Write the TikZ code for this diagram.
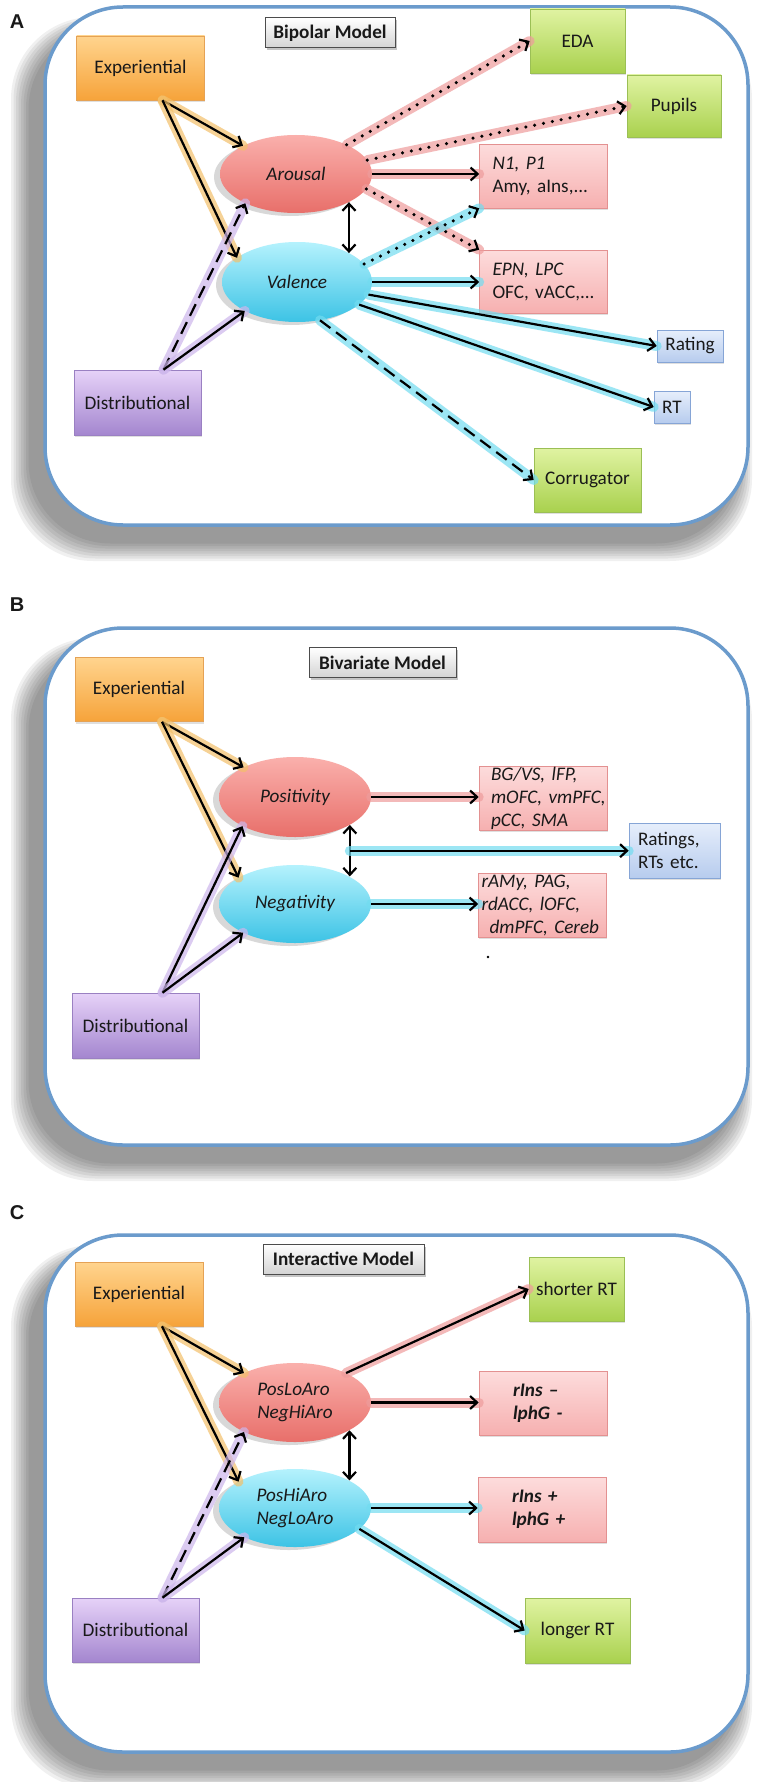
\documentclass[tikz,border=0pt]{standalone}
\usepackage{fontspec}
\setmainfont{Carlito}
\newfontfamily\letterfont{Liberation Sans}
\usetikzlibrary{arrows.meta,shapes.geometric,shadows,calc}
\definecolor{panelblue}{HTML}{6B9BCC}
\definecolor{orgT}{HTML}{FFD48E}
\definecolor{orgB}{HTML}{F6A33A}
\definecolor{orgE}{HTML}{E5A255}
\definecolor{purT}{HTML}{E6D2F8}
\definecolor{purB}{HTML}{A486CF}
\definecolor{purE}{HTML}{9A80C2}
\definecolor{grnT}{HTML}{E0F3A2}
\definecolor{grnB}{HTML}{A9D14E}
\definecolor{grnE}{HTML}{9BBF55}
\definecolor{pnkT}{HTML}{FDDCDC}
\definecolor{pnkB}{HTML}{F6B0B0}
\definecolor{pnkE}{HTML}{E39191}
\definecolor{bluT}{HTML}{E6EEFB}
\definecolor{bluB}{HTML}{B7CCEE}
\definecolor{bluE}{HTML}{86A5D6}
\definecolor{redT}{HTML}{FAB0AC}
\definecolor{redB}{HTML}{E86F6A}
\definecolor{cyaT}{HTML}{B5F2FD}
\definecolor{cyaB}{HTML}{3CC3E5}
\definecolor{glR}{HTML}{EE9C9C}
\definecolor{glC}{HTML}{72DCF0}
\definecolor{glO}{HTML}{F3C06A}
\definecolor{glP}{HTML}{CDB6EC}
\newcommand\fs{\fontsize{19.2}{23}\selectfont}
\newcommand\link[4][]{\draw[halo=#2] #3 -- #4; \draw[arr,#1] #3 -- #4;}
\newcommand\panelframe[2]{%
  \foreach \k in {8,...,1}{
    \fill[black, opacity=0.06, rounded corners=82pt] (31-\k*2.5, #1+22-\k*1.5) rectangle (736+\k*2, #2+16+\k*2.5);
  }
  \draw[panelline] (45,#1) rectangle (748,#2);
}
\begin{document}
\begin{tikzpicture}[x=1pt, y=-1pt,
  every node/.style={font=\fs, text=black!90},
  bx/.style={rectangle, inner sep=0pt, line width=0.6pt, drop shadow={shadow xshift=0.8pt, shadow yshift=-2pt, opacity=0.25}},
  expbox/.style={bx, draw=orgE, top color=orgT, bottom color=orgB, minimum width=128pt, minimum height=64pt},
  distbox/.style={bx, draw=purE, top color=purT, bottom color=purB, minimum width=127pt, minimum height=65pt},
  grnbox/.style={bx, draw=grnE, top color=grnT, bottom color=grnB},
  pnkbox/.style={bx, draw=pnkE, top color=pnkT, bottom color=pnkB, minimum width=128pt, minimum height=64pt, align=left},
  blubox/.style={bx, draw=bluE, top color=bluT, bottom color=bluB},
  ttl/.style={rectangle, inner sep=0pt, draw=black!70, line width=1pt, top color=white, bottom color=black!17, font=\fs\bfseries, minimum height=30pt, drop shadow={shadow xshift=1.5pt, shadow yshift=-2.5pt, opacity=0.45}},
  ell/.style={ellipse, inner sep=0pt, minimum width=152pt, minimum height=79pt, font=\fs\itshape, align=left, drop shadow={shadow xshift=-6pt, shadow yshift=-3pt, opacity=0.3}},
  redell/.style={ell, top color=redT, bottom color=redB},
  cyaell/.style={ell, top color=cyaT, bottom color=cyaB},
  letter/.style={font=\letterfont\fontsize{20}{24}\selectfont\bfseries},
  halo/.style={draw=#1, line width=10pt, opacity=0.7, line cap=round},
  arr/.style={draw=black, line width=2.2pt, -{Straight Barb[length=7pt,width=13pt,line width=2.2pt]}},
  biarr/.style={draw=black, line width=2.2pt, {Straight Barb[length=7pt,width=13pt,line width=2.2pt]}-{Straight Barb[length=7pt,width=13pt,line width=2.2pt]}},
  dotline/.style={line width=3.5pt, line cap=round, dash pattern=on 0pt off 9pt},
  dashline/.style={dash pattern=on 13pt off 7pt},
  panelline/.style={draw=panelblue, line width=3.5pt, fill=white, rounded corners=78pt}
]
\fill[white] (0,0) rectangle (756,1782);
\useasboundingbox (0,0) rectangle (756,1782);

\panelframe{7}{525}
\panelframe{628}{1145}
\panelframe{1235}{1752}

\node[letter] (labA) at (17,22) {A};
\node[letter] (labB) at (17,605) {B};
\node[letter] (labC) at (17,1213) {C};

% ---------- Panel A ----------
\node[ttl, minimum width=130pt] (tA) at (330,33) {Bipolar Model};
\node[expbox] (expA) at (140.5,68) {Experiential};
\node[distbox] (distA) at (137.5,402.5) {Distributional};
\node[redell, minimum height=78pt] (A) at (296,174) {Arousal};
\node[cyaell, minimum width=150pt, minimum height=80pt] (V) at (297,282) {Valence};
\node[grnbox, minimum width=95pt, minimum height=64pt] (eda) at (577.5,41) {EDA};
\node[grnbox, minimum width=94pt, minimum height=62pt] (pup) at (674,106) {Pupils};
\node[pnkbox, inner xsep=13pt, text width=102pt] (n1) at (543.5,176) {\textit{N1, P1}\\\mbox{Amy, aIns,...}};
\node[pnkbox, inner xsep=13pt, text width=102pt, minimum height=63pt] (epn) at (543.5,281.5) {\textit{EPN, LPC}\\\mbox{OFC, vACC,...}};
\node[blubox, minimum width=66pt, minimum height=32pt] (rating) at (690,346) {Rating};
\node[blubox, minimum width=36pt, minimum height=32pt] (rt) at (672,407) {RT};
\node[grnbox, minimum width=107pt, minimum height=64pt] (corr) at (587.5,480) {Corrugator};

\link{glO}{($(expA.south)+(22,0)$)}{(A.152)}
\link{glO}{($(expA.south)+(22,0)$)}{(V.158)}
\link[dashline]{glP}{($(distA.north)+(26,0)$)}{(A.210)}
\link{glP}{($(distA.north)+(26,0)$)}{(V.209)}
\draw[biarr] (A.-28) -- (A.-28 |- V.29);
\link[dotline]{glR}{(A.30)}{(eda.west)}
\link[dotline]{glR}{(A.11)}{(pup.west)}
\link{glR}{(A.east)}{(A.east -| n1.west)}
\link[dotline]{glR}{(A.-12)}{(epn.north west)}
\link[dotline]{glC}{(V.15)}{(n1.south west)}
\link{glC}{(V.east)}{(V.east -| epn.west)}
\link{glC}{(V.-10)}{(rating.west)}
\link{glC}{(V.-20)}{(rt.west)}
\link[dashline]{glC}{(V.-59)}{(corr.west)}

% ---------- Panel B ----------
\node[ttl, minimum width=147pt] (tB) at (382.5,662.5) {Bivariate Model};
\node[expbox] (expB) at (139,689.5) {Experiential};
\node[distbox] (distB) at (135.5,1025.5) {Distributional};
\node[redell, minimum height=80pt] (P) at (295,797) {Positivity};
\node[cyaell, minimum height=78pt] (N) at (295,904) {Negativity};
\node[pnkbox, inner xsep=12pt, text width=104pt, font=\fs\itshape] (bg) at (543,798) {BG/VS, lFP,\\\mbox{mOFC, vmPFC,}\\pCC, SMA};
\node[blubox, inner xsep=9pt, text width=73pt, minimum height=55pt, align=left] (ratings) at (674.5,850.5) {Ratings,\\RTs etc.};
\node[pnkbox, inner xsep=3pt, text width=122pt, font=\fs\itshape] (ramy) at (542.5,905) {rAMy, PAG,\\rdACC, lOFC,\\\hspace*{8pt}\mbox{dmPFC, Cereb}};
\fill (488,957) circle (1.3pt);

\link{glO}{($(expB.south)+(23,0)$)}{(P.150)}
\link{glO}{($(expB.south)+(23,0)$)}{(N.155)}
\link{glP}{($(distB.north)+(27,0)$)}{(P.209)}
\link{glP}{($(distB.north)+(27,0)$)}{(N.209)}
\draw[biarr] (P.-27.5) -- (P.-27.5 |- N.27);
\coordinate (mB) at ($(P.-27.5)!0.5!(P.-27.5 |- N.27)$);
\link{glC}{(mB)}{(mB -| ratings.west)}
\link{glR}{(P.east)}{(P.east -| bg.west)}
\link{glC}{(N.east)}{(N.east -| ramy.west)}

% ---------- Panel C ----------
\node[ttl, minimum width=161pt] (tC) at (343.5,1259) {Interactive Model};
\node[expbox] (expC) at (139,1294) {Experiential};
\node[distbox, minimum height=64pt] (distC) at (135.5,1630) {Distributional};
\node[redell] (PL) at (295,1402.5) {PosLoAro\\NegHiAro};
\node[cyaell, minimum height=78pt] (PH) at (295,1508) {PosHiAro\\NegLoAro};
\node[grnbox, minimum width=95pt, minimum height=64pt] (srt) at (576.5,1289) {shorter RT};
\node[pnkbox, inner xsep=34pt, text width=60pt, font=\fs\bfseries\itshape] (rim) at (543,1403) {rIns –\\lphG -};
\node[pnkbox, inner xsep=34pt, text width=60pt, font=\fs\bfseries\itshape, minimum height=65pt] (rip) at (542,1509.5) {rIns +\\lphG +};
\node[grnbox, minimum width=105pt, minimum height=65pt] (lrt) at (577.5,1630.5) {longer RT};

\link{glO}{($(expC.south)+(23,0)$)}{(PL.150)}
\link{glO}{($(expC.south)+(23,0)$)}{(PH.155)}
\link[dashline]{glP}{($(distC.north)+(27,0)$)}{(PL.210)}
\link{glP}{($(distC.north)+(27,0)$)}{(PH.210)}
\draw[biarr] (PL.-27.5) -- (PL.-27.5 |- PH.27);
\link{glR}{(PL.30)}{(srt.west)}
\link{glR}{(PL.east)}{(PL.east -| rim.west)}
\link{glC}{(PH.east)}{(PH.east -| rip.west)}
\link{glC}{(PH.-18)}{(lrt.west)}
\end{tikzpicture}
\end{document}
